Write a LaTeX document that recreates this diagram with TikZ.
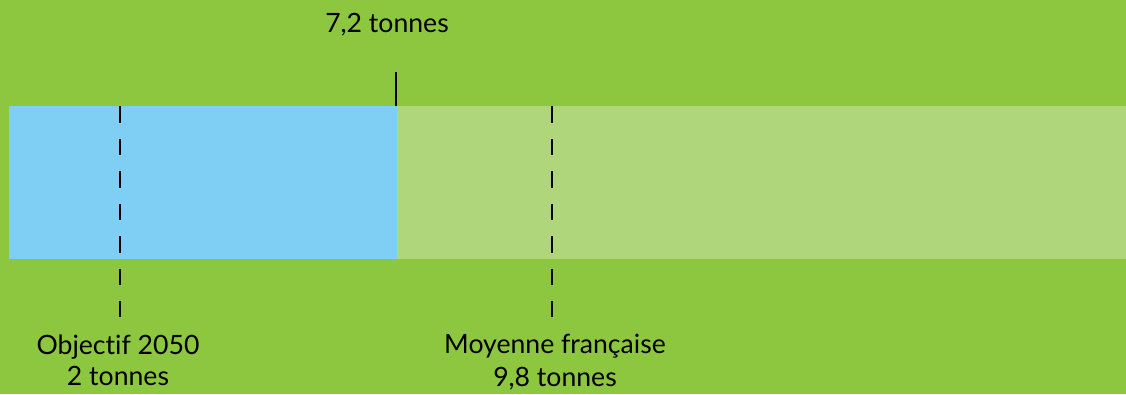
\documentclass[tikz,border=0pt]{standalone}
\usepackage{fontspec}
\setmainfont[Ligatures=NoCommon]{Lato}
\definecolor{fond}{HTML}{8DC63F}
\definecolor{clair}{HTML}{B0D67B}
\definecolor{bleu}{HTML}{7FCFF5}
\tikzset{
  label/.style={black, font=\fontsize{26.6}{31}\selectfont, anchor=base, inner sep=0pt},
  repere/.style={black, line width=2.3pt, dash pattern=on 16.5pt off 16pt}
}
\begin{document}
\begin{tikzpicture}[x=1pt,y=-1pt]
        \fill[fond] (0,0) rectangle (1126,394);
        \useasboundingbox (0,0) rectangle (1126,394);

        \fill[bleu] (9,106) rectangle (397,259);
        \fill[clair] (397,106) rectangle (1126,259);

        % reperes
        \coordinate (haut) at (396,72);
        \coordinate (actuel) at (396,106);
        \draw[black, line width=2.5pt] (haut) -- (actuel);

        \coordinate (obj) at (120,106);
        \coordinate (objbas) at (120,317);
        \draw[repere] (obj) -- (objbas);

        \coordinate (moy) at (552,106);
        \coordinate (moybas) at (552,317);
        \draw[repere] (moy) -- (moybas);

        \node[label] (t72) at (387,32) {7,2 tonnes};

        \node[label] (t2050) at (118,354) {Objectif 2050};
        \node[label] (t2) at (118,385) {2 tonnes};

        \node[label] (tmoy) at (555,353) {Moyenne française};
        \node[label] (t98) at (555,386) {9,8 tonnes};
    \end{tikzpicture}
\end{document}
